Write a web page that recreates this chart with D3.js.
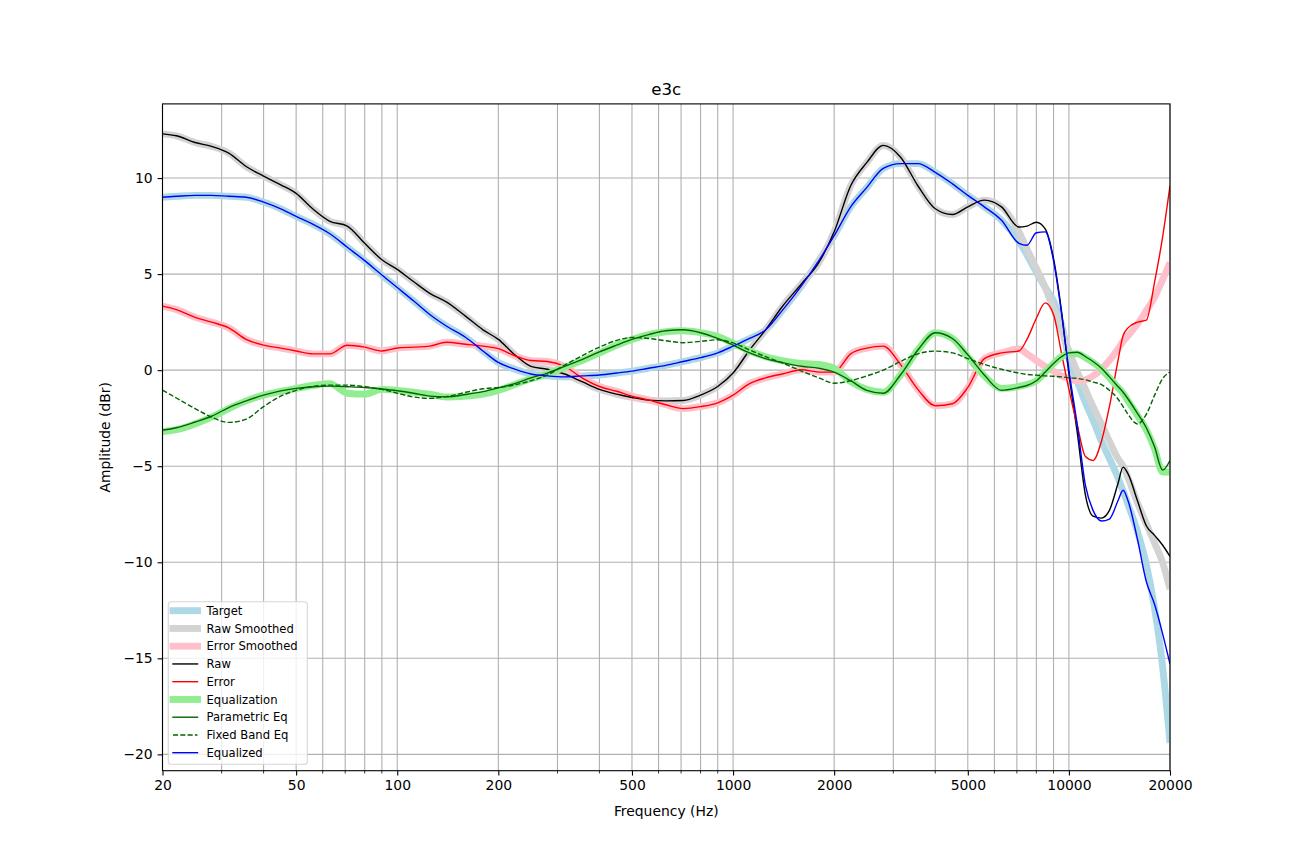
<!DOCTYPE html>
<html>
<head>
<meta charset="utf-8">
<script src="https://cdn.jsdelivr.net/npm/d3@7"></script>
<style>
  body { margin: 0; background: #fff; }
  svg { display: block; font-family: "DejaVu Sans", sans-serif; }
</style>
</head>
<body>
<svg id="chart" width="1300" height="866"></svg>
<script>
const freqs = [20, 22, 25, 28, 31.5, 35.5, 40, 45, 50,
  56, 63, 71, 80, 90, 100, 112, 125, 140, 160, 180, 200,
  224, 250, 280, 315, 355, 400, 450, 500, 560, 630, 710, 800, 900, 1000,
  1120, 1250, 1400, 1600, 1800, 2000, 2240, 2500, 2800, 3150, 3550, 4000, 4500, 5000, 5600, 6300,
  7100, 7500, 8000, 8500, 9000, 9500, 10000, 10600, 11200, 11800, 12500, 13200, 14000, 14500, 15000, 16000, 17000, 18000, 19000, 20000];

const target = [9.0, 9.05, 9.1, 9.1, 9.05, 9.0, 8.75, 8.4, 8.0,
  7.6, 7.1, 6.4, 5.7, 4.95, 4.3, 3.6, 2.9, 2.3, 1.7, 1.0, 0.4,
  0.05, -0.2, -0.3, -0.35, -0.3, -0.25, -0.15, -0.05, 0.1, 0.25, 0.45, 0.65, 0.9, 1.25,
  1.65, 2.1, 3.1, 4.4, 5.7, 7.0, 8.5, 9.5, 10.5, 10.75, 10.75, 10.3, 9.7, 9.1, 8.5, 7.8,
  6.7, 6.0, 5.1, 4.3, 3.6, 2.4, 0.6, -0.6, -1.7, -2.6, -3.7, -4.6, -5.6, -6.3, -7.0, -8.4, -10.1, -12.4, -15.4, -19.4];

const rawSmoothed = [12.3, 12.2, 11.85, 11.65, 11.3, 10.6, 10.1, 9.65, 9.2,
  8.4, 7.75, 7.5, 6.6, 5.75, 5.25, 4.6, 4.0, 3.55, 2.8, 2.1, 1.6,
  0.8, 0.2, 0.05, -0.2, -0.6, -1.0, -1.25, -1.42, -1.56, -1.6, -1.58, -1.3, -0.85, -0.15,
  1.05, 2.1, 3.3, 4.5, 5.6, 7.2, 9.6, 10.8, 11.7, 11.1, 9.6, 8.4, 8.1, 8.5, 8.85, 8.5,
  7.2, 6.3, 5.3, 4.3, 3.2, 2.1, 1.0, -0.1, -1.0, -1.9, -2.8, -3.7, -4.6, -5.0, -5.6, -6.9, -8.0, -9.0, -10.0, -11.4];

const errorSmoothed = [3.33, 3.15, 2.75, 2.5, 2.2, 1.6, 1.3, 1.15, 1.0,
  0.85, 0.85, 1.3, 1.2, 1.0, 1.15, 1.2, 1.25, 1.45, 1.35, 1.25, 1.12,
  0.75, 0.5, 0.45, 0.2, -0.4, -0.85, -1.1, -1.35, -1.55, -1.8, -2.0, -1.9, -1.7, -1.3,
  -0.7, -0.4, -0.2, 0.02, -0.1, -0.1, 0.85, 1.15, 1.25, 0.3, -1.0, -1.85, -1.75, -0.9, 0.6, 0.9,
  1.1, 0.85, 0.5, 0.2, -0.05, -0.3, -0.45, -0.55, -0.5, -0.3, 0.05, 0.5, 1.1, 1.5, 1.8, 2.4, 3.1, 3.8, 4.7, 5.6];

const raw = [12.3, 12.2, 11.85, 11.65, 11.3, 10.6, 10.1, 9.65, 9.2,
  8.4, 7.75, 7.5, 6.6, 5.75, 5.25, 4.6, 4.0, 3.55, 2.8, 2.1, 1.6,
  0.8, 0.2, 0.05, -0.2, -0.6, -1.0, -1.25, -1.42, -1.56, -1.6, -1.58, -1.3, -0.85, -0.15,
  1.05, 2.1, 3.3, 4.5, 5.6, 7.2, 9.6, 10.8, 11.7, 11.1, 9.6, 8.4, 8.1, 8.5, 8.85, 8.5,
  7.45, 7.5, 7.7, 7.35, 5.8, 3.1, -0.2, -3.3, -6.5, -7.6, -7.7, -7.3, -5.9, -5.05, -5.4, -6.8, -8.1, -8.6, -9.1, -9.7];

const error = [3.33, 3.15, 2.75, 2.5, 2.2, 1.6, 1.3, 1.15, 1.0,
  0.85, 0.85, 1.3, 1.2, 1.0, 1.15, 1.2, 1.25, 1.45, 1.35, 1.25, 1.12,
  0.75, 0.5, 0.45, 0.2, -0.4, -0.85, -1.1, -1.35, -1.55, -1.8, -2.0, -1.9, -1.7, -1.3,
  -0.7, -0.4, -0.2, 0.02, -0.1, -0.1, 0.85, 1.15, 1.25, 0.3, -1.0, -1.85, -1.75, -0.9, 0.6, 0.9,
  1.0, 1.6, 2.7, 3.5, 2.9, 0.9, -1.0, -2.9, -4.5, -4.7, -3.7, -1.9, 0.5, 1.8, 2.2, 2.5, 2.6, 4.6, 6.9, 9.6];

const equalization = [-3.2, -3.1, -2.8, -2.45, -2.0, -1.6, -1.3, -1.1, -0.95,
  -0.8, -0.7, -1.2, -1.25, -1.0, -1.05, -1.15, -1.25, -1.4, -1.35, -1.25, -1.05,
  -0.75, -0.45, -0.2, 0.15, 0.5, 0.9, 1.3, 1.6, 1.85, 2.0, 2.05, 1.95, 1.75, 1.4,
  1.0, 0.7, 0.5, 0.35, 0.3, 0.1, -0.6, -1.0, -1.15, -0.25, 1.05, 1.95, 1.65, 0.7, -0.3, -0.95,
  -0.85, -0.75, -0.55, -0.1, 0.35, 0.7, 0.85, 0.85, 0.65, 0.4, 0.05, -0.4, -0.9, -1.2, -1.6, -2.35, -3.1, -4.1, -5.3, -5.3];

const parametricEq = [-3.13, -3.0, -2.7, -2.4, -1.95, -1.6, -1.3, -1.08, -0.95,
  -0.86, -0.83, -0.86, -0.9, -0.98, -1.07, -1.2, -1.35, -1.39, -1.27, -1.12, -0.92,
  -0.7, -0.4, -0.15, 0.2, 0.55, 0.95, 1.3, 1.6, 1.85, 2.05, 2.1, 1.95, 1.65, 1.3,
  0.9, 0.6, 0.4, 0.2, 0.1, -0.1, -0.55, -1.05, -1.2, -0.25, 1.05, 1.95, 1.65, 0.8, -0.25, -1.05,
  -0.9, -0.8, -0.55, -0.1, 0.35, 0.7, 0.9, 0.93, 0.7, 0.45, 0.1, -0.35, -0.85, -1.15, -1.5, -2.25, -3.0, -4.0, -5.2, -4.7];

const fixedBandEq = [-1.04, -1.45, -2.0, -2.45, -2.72, -2.55, -1.9, -1.35, -1.05,
  -0.85, -0.78, -0.78, -0.86, -1.0, -1.2, -1.4, -1.47, -1.38, -1.15, -0.97, -0.9,
  -0.77, -0.55, -0.25, 0.26, 0.75, 1.2, 1.55, 1.7, 1.65, 1.53, 1.43, 1.5, 1.58, 1.42,
  1.05, 0.7, 0.38, -0.05, -0.4, -0.68, -0.55, -0.3, 0.0, 0.45, 0.85, 0.99, 0.9, 0.6, 0.3, 0.05,
  -0.15, -0.22, -0.26, -0.3, -0.32, -0.35, -0.4, -0.43, -0.5, -0.62, -0.75, -1.05, -1.5, -1.9, -2.3, -2.8, -2.3, -1.3, -0.45, -0.1];

const equalized = [9.0, 9.05, 9.1, 9.1, 9.05, 9.0, 8.75, 8.4, 8.0,
  7.6, 7.1, 6.4, 5.7, 4.95, 4.3, 3.6, 2.9, 2.3, 1.7, 1.0, 0.4,
  0.05, -0.2, -0.3, -0.35, -0.3, -0.25, -0.15, -0.05, 0.1, 0.25, 0.45, 0.65, 0.9, 1.25,
  1.65, 2.1, 3.1, 4.4, 5.7, 7.0, 8.5, 9.5, 10.5, 10.75, 10.75, 10.3, 9.7, 9.1, 8.5, 7.8,
  6.6, 6.5, 7.15, 7.2, 5.7, 3.0, 0.0, -2.9, -6.0, -7.3, -7.85, -7.75, -6.8, -6.25, -6.8, -8.8, -11.0, -12.2, -13.7, -15.3];

const xTicks = [20, 50, 100, 200, 500, 1000, 2000, 5000, 10000, 20000];
const yTicks = [-20, -15, -10, -5, 0, 5, 10];

const series = [
  { name: 'Target', values: target, color: 'lightblue', width: 6.9 },
  { name: 'Raw Smoothed', values: rawSmoothed, color: 'lightgrey', width: 6.9 },
  { name: 'Error Smoothed', values: errorSmoothed, color: 'pink', width: 6.9 },
  { name: 'Raw', values: raw, color: 'black', width: 1.4 },
  { name: 'Error', values: error, color: 'red', width: 1.4 },
  { name: 'Equalization', values: equalization, color: 'lightgreen', width: 6.9 },
  { name: 'Parametric Eq', values: parametricEq, color: 'darkgreen', width: 1.4 },
  { name: 'Fixed Band Eq', values: fixedBandEq, color: 'darkgreen', width: 1.4, dash: '5.1,2.2' },
  { name: 'Equalized', values: equalized, color: 'blue', width: 1.4 }
];

const svg = d3.select('#chart');
const plotL = 162.5, plotR = 1170, plotT = 103.9, plotB = 770.7;

const x = d3.scaleLog().domain([20, 20000]).range([plotL, plotR]);
const y = d3.scaleLinear().domain([-20.85, 13.86]).range([plotB, plotT]);

svg.append('rect').attr('width', 1300).attr('height', 866).attr('fill', '#fff');

svg.append('clipPath').attr('id', 'plot-clip')
  .append('rect')
    .attr('x', plotL).attr('y', plotT)
    .attr('width', plotR - plotL).attr('height', plotB - plotT);

// grid
const grid = svg.append('g').attr('class', 'grid')
  .attr('stroke', '#b0b0b0').attr('stroke-width', 1.1);

grid.selectAll('line.v')
  .data(x.ticks())
  .enter().append('line')
    .attr('class', 'v')
    .attr('x1', d => x(d)).attr('x2', d => x(d))
    .attr('y1', plotT).attr('y2', plotB);

grid.selectAll('line.h')
  .data(yTicks)
  .enter().append('line')
    .attr('class', 'h')
    .attr('x1', plotL).attr('x2', plotR)
    .attr('y1', d => y(d)).attr('y2', d => y(d));

// curves
const line = d3.line()
  .x(d => x(d[0]))
  .y(d => y(d[1]))
  .curve(d3.curveMonotoneX);

svg.append('g')
    .attr('clip-path', 'url(#plot-clip)')
  .selectAll('path')
  .data(series)
  .enter().append('path')
    .attr('d', s => line(freqs.map((f, i) => [f, s.values[i]])))
    .attr('fill', 'none')
    .attr('stroke', s => s.color)
    .attr('stroke-width', s => s.width)
    .attr('stroke-linejoin', 'round')
    .attr('stroke-dasharray', s => s.dash || null);

// axes
const fmtY = (d) => d < 0 ? '\u2212' + Math.abs(d) : '' + d;

const xAxis = svg.append('g')
  .attr('transform', `translate(0,${plotB})`)
  .call(d3.axisBottom(x).tickValues(xTicks).tickFormat(d3.format('d'))
    .tickSize(4.9).tickPadding(4.9).tickSizeOuter(0));

svg.append('g')
  .attr('transform', `translate(0,${plotB})`)
  .selectAll('line')
  .data(x.ticks().filter(d => xTicks.indexOf(d) < 0))
  .enter().append('line')
    .attr('x1', d => x(d)).attr('x2', d => x(d))
    .attr('y1', 0).attr('y2', 2.8)
    .attr('stroke', '#000').attr('stroke-width', 0.8);

const yAxis = svg.append('g')
  .attr('transform', `translate(${plotL},0)`)
  .call(d3.axisLeft(y).tickValues(yTicks).tickFormat(fmtY)
    .tickSize(4.9).tickPadding(4.9).tickSizeOuter(0));

[xAxis, yAxis].forEach((a) => {
  a.select('.domain').remove();
  a.selectAll('text').attr('font-size', 13.9).attr('font-family', '"DejaVu Sans", sans-serif').attr('fill', '#000');
  a.selectAll('line').attr('stroke-width', 1.1);
});

svg.append('rect')
  .attr('x', plotL).attr('y', plotT)
  .attr('width', plotR - plotL).attr('height', plotB - plotT)
  .attr('fill', 'none').attr('stroke', '#000').attr('stroke-width', 1.1);

svg.append('text')
  .attr('x', (plotL + plotR) / 2).attr('y', 95)
  .attr('text-anchor', 'middle').attr('font-size', 16.7)
  .text('e3c');

svg.append('text')
  .attr('x', (plotL + plotR) / 2).attr('y', 816)
  .attr('text-anchor', 'middle').attr('font-size', 13.9)
  .text('Frequency (Hz)');

svg.append('text')
  .attr('transform', `translate(110,${(plotT + plotB) / 2}) rotate(-90)`)
  .attr('text-anchor', 'middle').attr('font-size', 13.9)
  .text('Amplitude (dBr)');

// legend
const legend = svg.append('g');
legend.append('rect')
  .attr('x', 168.3).attr('y', 601.7)
  .attr('width', 139).attr('height', 162.6)
  .attr('rx', 2.8)
  .attr('fill', '#fff').attr('fill-opacity', 0.8)
  .attr('stroke', '#d6d6d6').attr('stroke-width', 1.1);

const rows = legend.selectAll('g.row')
  .data(series)
  .enter().append('g')
    .attr('class', 'row')
    .attr('transform', (d, i) => `translate(0,${610.7 + i * 17.75})`);

rows.append('line')
  .attr('x1', 173).attr('x2', 197.5)
  .attr('stroke', s => s.color)
  .attr('stroke-width', s => s.width)
  .attr('stroke-linecap', s => s.dash ? 'butt' : 'square')
  .attr('stroke-dasharray', s => s.dash || null);

rows.append('text')
  .attr('x', 206.5).attr('dy', '0.35em')
  .attr('font-size', 11.6)
  .text(s => s.name);
</script>
</body>
</html>
